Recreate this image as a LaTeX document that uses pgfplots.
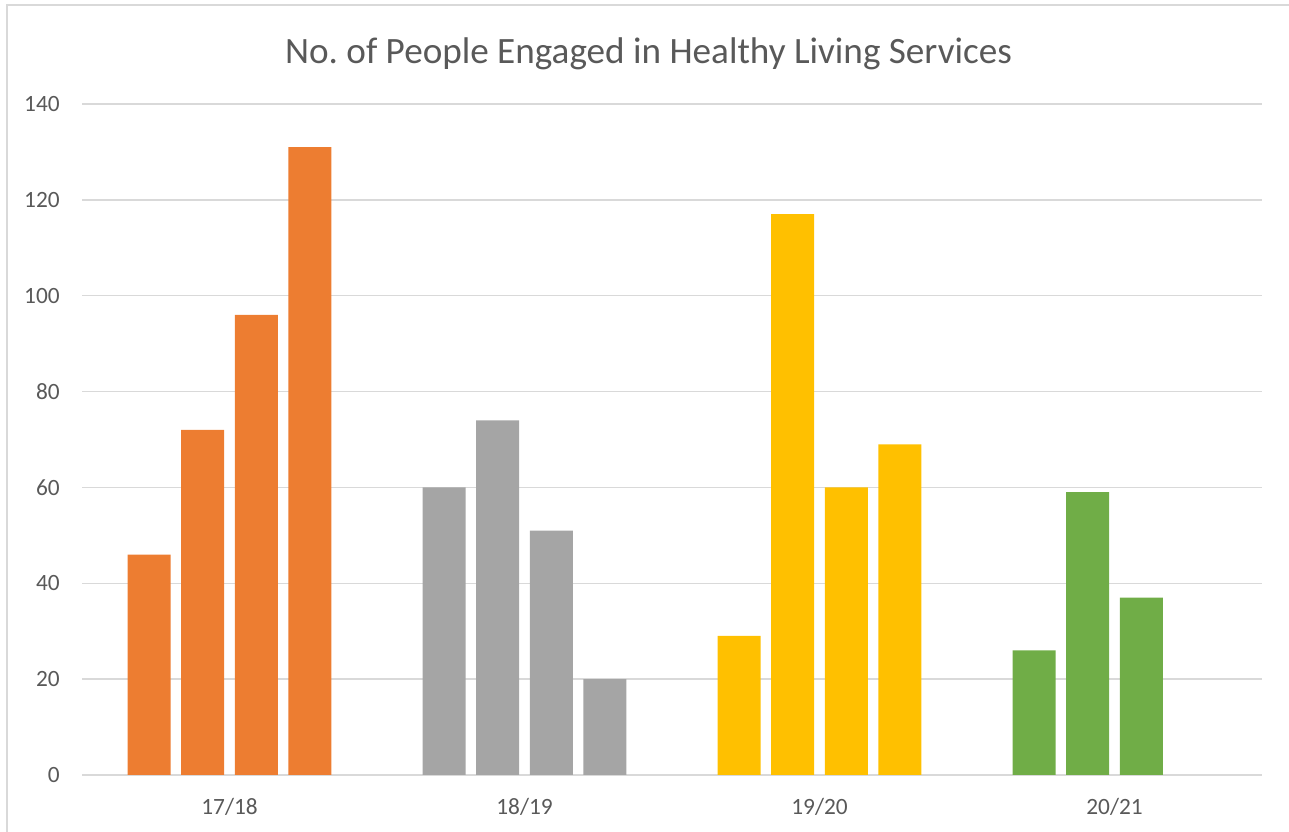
\documentclass[border=0pt]{standalone}
\usepackage{fontspec}
\setmainfont{Carlito}
\usepackage{pgfplots}
\pgfplotsset{compat=1.18}
\definecolor{cOrange}{HTML}{ED7D31}
\definecolor{cGray}{HTML}{A5A5A5}
\definecolor{cGold}{HTML}{FFC000}
\definecolor{cGreen}{HTML}{70AD47}
\definecolor{cText}{HTML}{595959}
\definecolor{cGrid}{HTML}{D9D9D9}
\frenchspacing
\begin{document}
\begin{tikzpicture}
\useasboundingbox (0,0) rectangle (773.4pt,499.2pt);
\draw[cGrid, line width=0.9pt] (4.2pt,-10pt) rectangle (780pt,496.2pt);
\node[anchor=base, text=cText, font=\fontsize{22.3}{26}\selectfont] at (389.1pt,461pt) {No. of People Engaged in Healthy Living Services};
\begin{axis}[
  at={(49.2pt,34.2pt)}, anchor=south west,
  scale only axis, width=708pt, height=402.6pt,
  xmin=-0.5, xmax=3.5, ymin=0, ymax=140,
  xtick={0,1,2,3}, xticklabels={17/18,18/19,19/20,20/21},
  ytick={0,20,...,140},
  major tick length=0pt,
  axis line style={draw=none},
  ymajorgrids, grid style={cGrid, line width=0.9pt},
  tick label style={text=cText, font=\fontsize{14}{16}\selectfont},
  /pgf/number format/assume math mode=true,
  yticklabel style={anchor=east, inner sep=0pt, xshift=-13.2pt},
  xticklabel style={anchor=base, inner sep=0pt, yshift=-24pt},
  clip=false,
]
\addplot[ybar, bar width=0.1458, bar shift=0pt, fill=cOrange, draw=none] coordinates {(-0.2725,46) (-0.0908,72) (0.0908,96) (0.2725,131)};
\addplot[ybar, bar width=0.1458, bar shift=0pt, fill=cGray, draw=none] coordinates {(0.7275,60) (0.9092,74) (1.0908,51) (1.2725,20)};
\addplot[ybar, bar width=0.1458, bar shift=0pt, fill=cGold, draw=none] coordinates {(1.7275,29) (1.9092,117) (2.0908,60) (2.2725,69)};
\addplot[ybar, bar width=0.1458, bar shift=0pt, fill=cGreen, draw=none] coordinates {(2.7275,26) (2.9092,59) (3.0908,37)};
\end{axis}
\end{tikzpicture}
\end{document}
